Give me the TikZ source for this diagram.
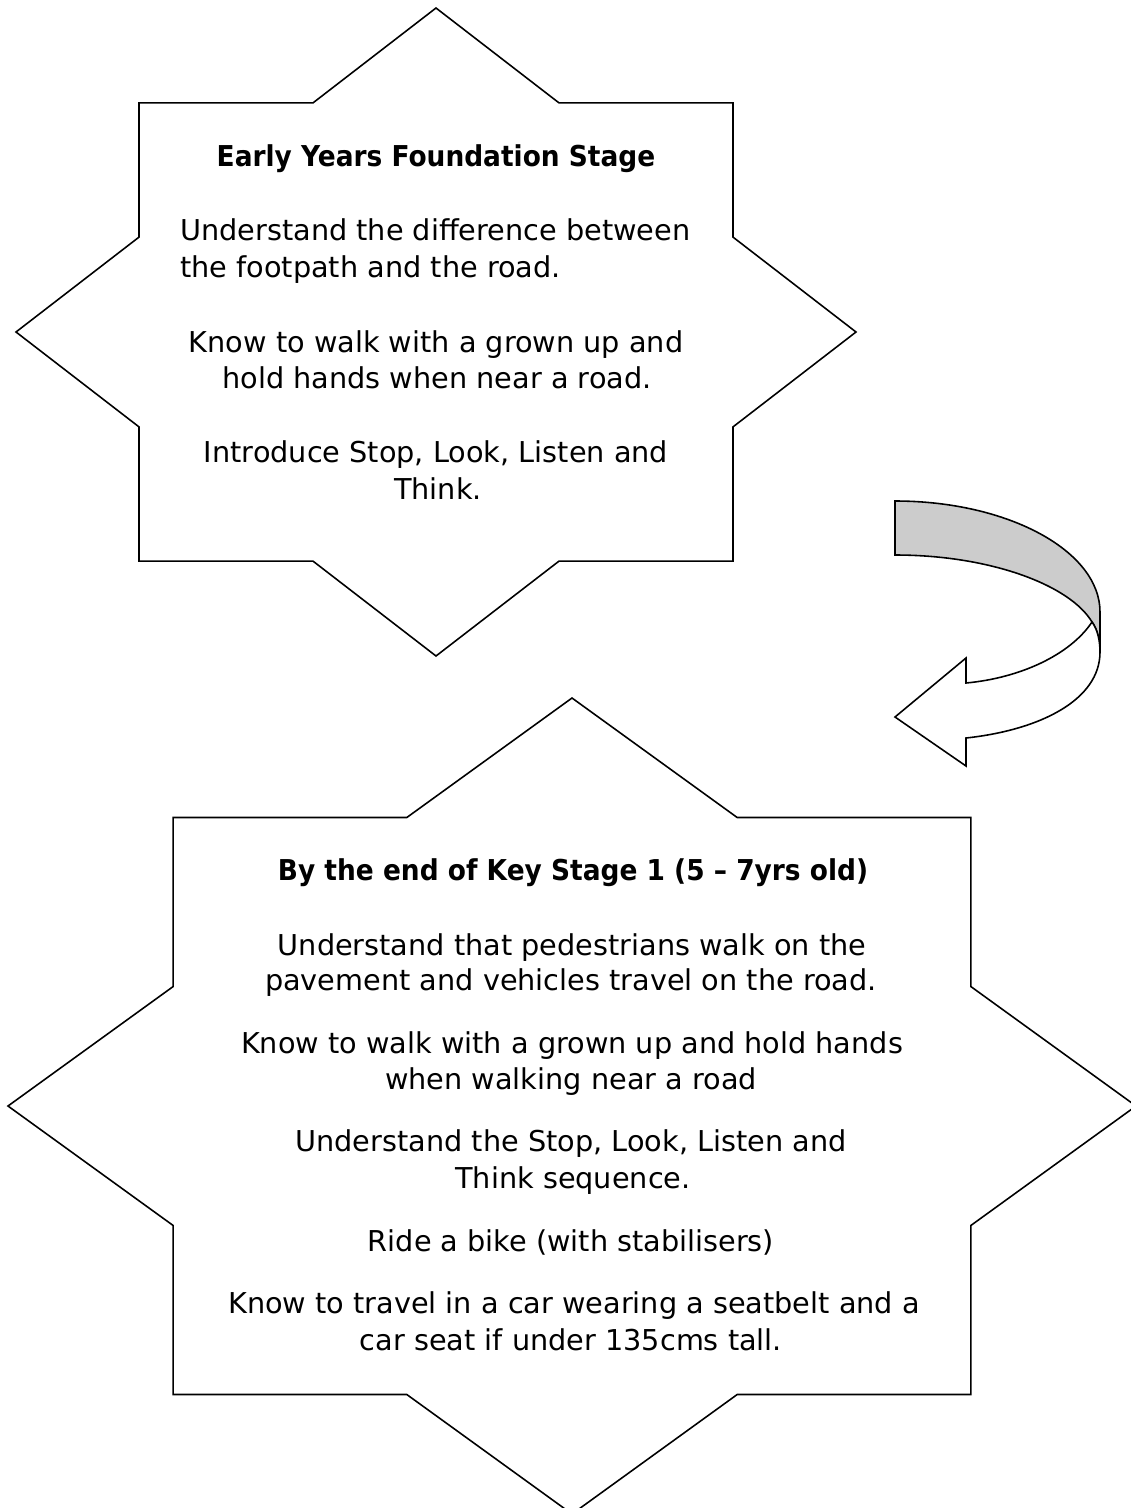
\documentclass[tikz,border=0pt]{standalone}
\usepackage{fontspec}
\setmainfont{DejaVu Sans}[BoldFeatures={FakeStretch=0.92}]
\usetikzlibrary{positioning}
% eight pointed star: [style](centre x,centre y)(x half width:y half height)
\def\octstar[#1](#2,#3)(#4:#5){\draw[#1] (#2,#3-#5) -- ({#2+0.2929*#4},{#3-0.7071*#5}) -- ({#2+0.7071*#4},{#3-0.7071*#5}) -- ({#2+0.7071*#4},{#3-0.2929*#5}) -- ({#2+#4},#3) -- ({#2+0.7071*#4},{#3+0.2929*#5}) -- ({#2+0.7071*#4},{#3+0.7071*#5}) -- ({#2+0.2929*#4},{#3+0.7071*#5}) -- (#2,{#3+#5}) -- ({#2-0.2929*#4},{#3+0.7071*#5}) -- ({#2-0.7071*#4},{#3+0.7071*#5}) -- ({#2-0.7071*#4},{#3+0.2929*#5}) -- ({#2-#4},#3) -- ({#2-0.7071*#4},{#3-0.2929*#5}) -- ({#2-0.7071*#4},{#3-0.7071*#5}) -- ({#2-0.2929*#4},{#3-0.7071*#5}) -- cycle;}
\tikzset{
	starline/.style={line width=0.9pt, line join=miter, fill=white},
	textline/.style={anchor=base, inner sep=0pt, font=\fontsize{16.35}{19}\selectfont},
	headline/.style={textline, font=\fontsize{16.35}{19}\selectfont\bfseries},
}

\begin{document}
\begin{tikzpicture}[x=0.02cm, y=-0.02cm]
		%%%%% START %%%%%
		\clip (0,0) rectangle (1131,1508);
		
		% top star
		\octstar[starline](436,332)(420:324);
		
		\node[headline] (eyfs) at (436,166) {Early Years Foundation Stage};
		\node[textline, anchor=base west] (eyfsA1) at (180,240) {Understand the difference between};
		\node[textline, anchor=base west] (eyfsA2) at (180,277) {the footpath and the road.};
		\node[textline] (eyfsB1) at (436,352) {Know to walk with a grown up and};
		\node[textline] (eyfsB2) at (437,388) {hold hands when near a road.};
		\node[textline] (eyfsC1) at (436,462) {Introduce Stop, Look, Listen and};
		\node[textline] (eyfsC2) at (438,499) {Think.};
		
		% curved arrow, back of the ribbon
		\draw[line width=0.9pt, fill=black!20] (895,501) .. controls (1008,501) and (1100,551) .. (1100,612) -- (1100,652) .. controls (1100,642) and (1098,630) .. (1092,622) .. controls (1070,585) and (990,555) .. (895,555) -- cycle;
		% curved arrow, front of the ribbon
		\draw[line width=0.9pt, fill=white, line join=miter] (1092,622) .. controls (1098,630) and (1100,642) .. (1100,652) .. controls (1100,700) and (1040,730) .. (966,738) -- (966,766) -- (895,717) -- (966,658) -- (966,683) .. controls (1020,678) and (1070,655) .. (1092,622) -- cycle;
		
		% bottom star
		\octstar[starline](572,1106)(564:408);
		
		\node[headline] (ksone) at (573,880) {By the end of Key Stage 1 (5 -- 7yrs old)};
		\node[textline] (ksA1) at (572,955) {Understand that pedestrians walk on the};
		\node[textline] (ksA2) at (571,990) {pavement and vehicles travel on the road.};
		\node[textline] (ksB1) at (572,1053) {Know to walk with a grown up and hold hands};
		\node[textline] (ksB2) at (571,1089) {when walking near a road};
		\node[textline] (ksC1) at (571,1151) {Understand the Stop, Look, Listen and};
		\node[textline] (ksC2) at (573,1188) {Think sequence.};
		\node[textline] (ksD1) at (571,1251) {Ride a bike (with stabilisers)};
		\node[textline] (ksE1) at (574,1313) {Know to travel in a car wearing a seatbelt and a};
		\node[textline] (ksE2) at (571,1350) {car seat if under 135cms tall.};
		
		%%%%% END %%%%%
\end{tikzpicture}
\end{document}
